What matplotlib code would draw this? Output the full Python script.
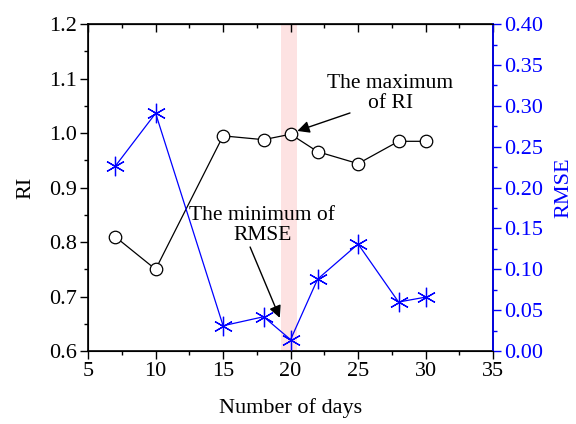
import numpy as np
import matplotlib
matplotlib.use('Agg')
from matplotlib import pyplot as plt
from matplotlib.ticker import MultipleLocator, FormatStrFormatter

plt.rcParams['font.family'] = ['Liberation Serif', 'DejaVu Serif']

days = [7, 10, 15, 18, 20, 22, 25, 28, 30]
ri = [0.81, 0.75, 0.995, 0.988, 0.998, 0.966, 0.944, 0.985, 0.985]
rmse = [0.226, 0.291, 0.031, 0.042, 0.014, 0.088, 0.131, 0.060, 0.066]
span_days = (19.3, 20.5)

fig = plt.figure(figsize=(5.76, 4.24), dpi=100)
ax = fig.add_axes([0.153, 0.172, 0.703, 0.771])

ax.axvspan(span_days[0], span_days[1], color='#fde2e2', lw=0, zorder=0)
ax.plot(days, ri, color='black', lw=0.9, marker='o', ms=9,
        mfc='white', mec='black', mew=0.9, zorder=3)

ax.set_xlim(5, 35)
ax.set_ylim(0.6, 1.2)
ax.xaxis.set_major_locator(MultipleLocator(5))
ax.xaxis.set_minor_locator(MultipleLocator(2.5))
ax.yaxis.set_major_locator(MultipleLocator(0.1))
ax.yaxis.set_minor_locator(MultipleLocator(0.05))
ax.yaxis.set_major_formatter(FormatStrFormatter('%.1f'))
ax.tick_params(which='both', direction='out', labelsize=16, width=1, pad=2)
ax.tick_params(which='major', length=6)
ax.tick_params(which='minor', length=3)
ax.set_xlabel('Number of days', fontsize=16, labelpad=12)
ax.set_ylabel('RI', fontsize=16, labelpad=10)
for s in ax.spines.values():
    s.set_linewidth(1.2)

top = ax.secondary_xaxis('top')
top.xaxis.set_major_locator(MultipleLocator(5))
top.xaxis.set_minor_locator(MultipleLocator(2.5))
top.tick_params(which='both', direction='in', labeltop=False, width=1)
top.tick_params(which='major', length=6)
top.tick_params(which='minor', length=3)

ax2 = ax.twinx()
ax2.plot(days, rmse, color='blue', lw=0.9, marker=(6, 2, 0), ms=14,
         mec='blue', mew=0.9, zorder=3)
ax2.set_ylim(0, 0.4)
ax2.yaxis.set_major_locator(MultipleLocator(0.05))
ax2.yaxis.set_minor_locator(MultipleLocator(0.025))
ax2.yaxis.set_major_formatter(FormatStrFormatter('%.2f'))
ax2.tick_params(which='both', direction='out', colors='blue', labelsize=16, width=1, pad=2)
ax2.tick_params(which='major', length=6)
ax2.tick_params(which='minor', length=3)
ax2.spines['right'].set_color('blue')
ax2.spines['right'].set_linewidth(1.2)
ax2.set_ylabel('RMSE', fontsize=16, color='blue', labelpad=8)

arrow = dict(arrowstyle='-|>', color='black', lw=1, mutation_scale=18,
             shrinkA=0, shrinkB=0)
ax.text(27.4, 1.073, 'The maximum\nof RI', fontsize=15.5, ha='center',
        va='center', linespacing=1.05)
ax.annotate('', xy=(20.5, 1.004), xytext=(24.4, 1.037), arrowprops=arrow)
ax.text(17.9, 0.831, 'The minimum of\nRMSE', fontsize=15.5, ha='center',
        va='center', linespacing=1.05)
ax.annotate('', xy=(19.2, 0.661), xytext=(17.0, 0.791), arrowprops=arrow)

fig.savefig('out.png', dpi=100)
